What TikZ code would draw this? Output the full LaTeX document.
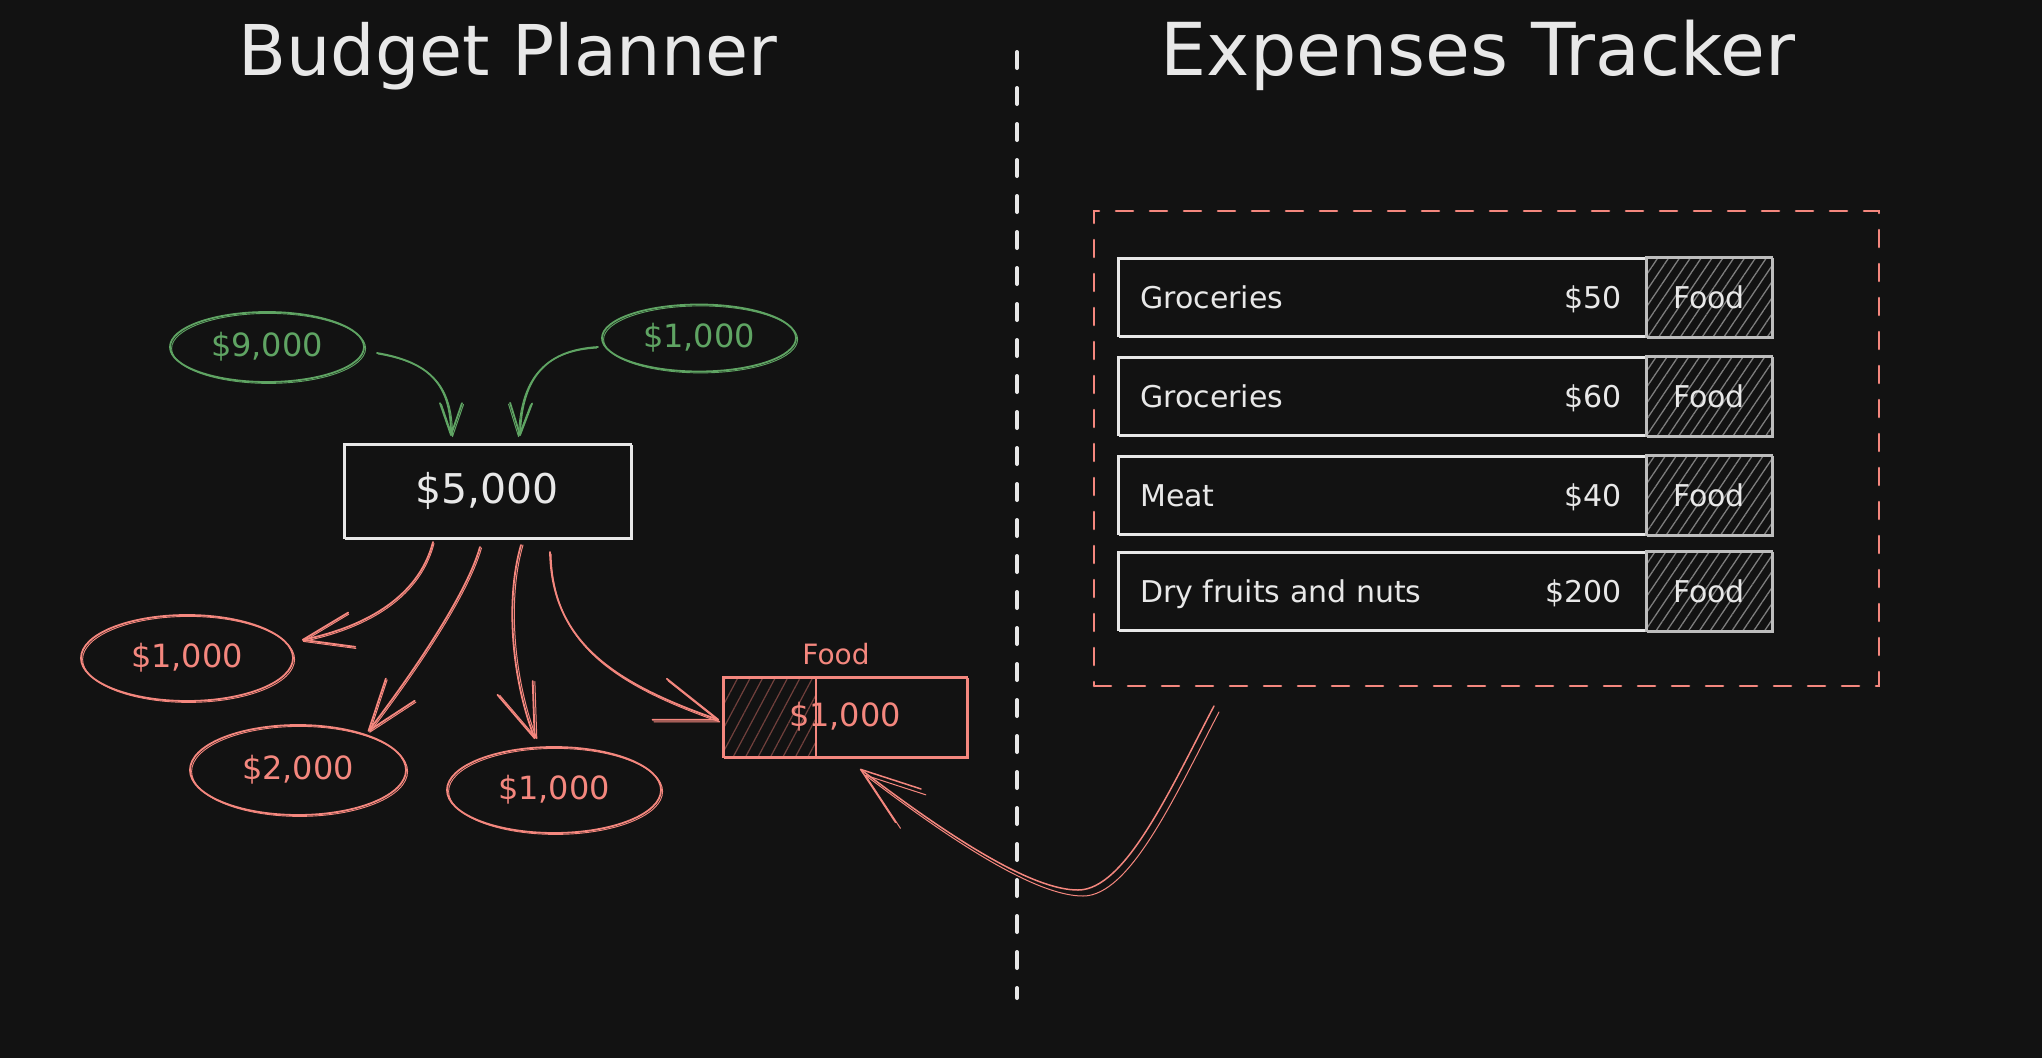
\documentclass[tikz,border=0pt]{standalone}
\usepackage{fontspec}
\setmainfont{DejaVu Sans}
\usetikzlibrary{arrows.meta,shapes.geometric,patterns.meta,calc}

\definecolor{bgc}{HTML}{121212}
\definecolor{inkw}{HTML}{E8E8E8}
\definecolor{inkg}{HTML}{5FA463}
\definecolor{inkr}{HTML}{F4877E}
\definecolor{hatchr}{HTML}{70403C}
\definecolor{tagline}{HTML}{BDBDBD}
\definecolor{hatchg}{HTML}{7E7E7E}

\tikzset{
  sketchline/.style={postaction={draw, line width=0.9pt, transform canvas={shift={(1.6,1.4)}}}},
  title/.style={text=inkw, font=\fontsize{#1}{#1}\selectfont, anchor=base, inner sep=0pt},
  money/.style={font=\fontsize{32}{36}\selectfont},
  small/.style={font=\fontsize{30}{36}\selectfont},
  inflow/.style={ellipse, draw=inkg, text=inkg, line width=1.8pt, inner sep=0pt, money, sketchline},
  outflow/.style={ellipse, draw=inkr, text=inkr, line width=1.8pt, inner sep=0pt, money, sketchline},
  totalbox/.style={draw=inkw, text=inkw, line width=2pt, minimum width=287, minimum height=94,
    inner sep=0pt, font=\fontsize{41}{44}\selectfont, sketchline},
  rowbox/.style={draw=inkw, line width=2pt, minimum width=528, minimum height=78, inner sep=0pt, sketchline},
  tagbox/.style={draw=tagline, line width=1.8pt, minimum width=126, minimum height=80, inner sep=0pt,
    pattern={Lines[angle=56,distance=9pt,line width=1.3pt]}, pattern color=hatchg,
    text=inkw, small, sketchline},
  rowtext/.style={text=inkw, small, inner sep=0pt},
  twin/.style={postaction={draw, line width=1pt, transform canvas={shift={(#1)}}}},
  flowg/.style={draw=inkg, line width=1.8pt, line cap=round,
    -{Straight Barb[length=32pt,width=22pt,round]}},
  flowr/.style={draw=inkr, line width=1.8pt, line cap=round,
    -{Straight Barb[length=#1,width=0.7*#1,round]}},
  divider/.style={draw=inkw, line width=4pt, line cap=round, dash pattern=on 16pt off 20pt},
  frame/.style={draw=inkr, line width=2.6pt, line cap=round, dash pattern=on 17pt off 17pt,
    minimum width=785, minimum height=475, inner sep=0pt}
}

\begin{document}
\begin{tikzpicture}[x=1pt,y=-1pt]
\useasboundingbox (0,0) rectangle (2042,1058);
\fill[bgc] (0,0) rectangle (2042,1058);

% headings
\node[title=70] (hbudget) at (508,75) {Budget Planner};
\node[title=73] (htrack) at (1478,75) {Expenses Tracker};

% divider between the two halves
\draw[divider] (1017,52) -- (1017,998);

% ---------- budget planner ----------
\node[inflow, minimum width=194, minimum height=70] (in9) at (267,347) {\$9,000};
\node[inflow, minimum width=194, minimum height=67] (in1) at (699,338) {\$1,000};
\node[totalbox] (total) at (487,491) {\$5,000};

\node[outflow, minimum width=212, minimum height=86] (out1) at (187,658) {\$1,000};
\node[outflow, minimum width=216, minimum height=90] (out2) at (298,770) {\$2,000};
\node[outflow, minimum width=214, minimum height=86] (out3) at (554,790) {\$1,000};

% category bucket, partly used
\fill[pattern={Lines[angle=62,distance=11pt,line width=1.2pt]}, pattern color=hatchr]
  (723,677) rectangle (816,757);
\node[draw=inkr, line width=1.8pt, minimum width=244, minimum height=80, inner sep=0pt,
  text=inkr, money, sketchline] (bucket) at (845,717) {\$1,000};
\draw[inkr, line width=1.6pt] (816,677) -- (816,757);
\node[text=inkr, font=\fontsize{28}{30}\selectfont, inner sep=0pt, anchor=base] (bucketlbl) at (836,664) {Food};

% incoming money
\coordinate (g1s) at (377,353);
\coordinate (g2s) at (598,347);
\draw[flowg, twin={1.5,1}] (g1s) .. controls (430,362) and (451,385) .. ($(total.north)+(-36,-7)$);
\draw[flowg, twin={-1.5,1}] (g2s) .. controls (548,350) and (522,375) .. ($(total.north)+(33,-7)$);

% outgoing money
\coordinate (oa) at (433,542);
\coordinate (ob) at (480,547);
\coordinate (oc) at (521,545);
\coordinate (od) at (550,552);
\draw[flowr=50pt, twin={1,1.5}] (oa) .. controls (418,600) and (360,628) .. ($(out1.east)+(8,-18)$);
\draw[flowr=52pt, twin={1.5,1}] (ob) .. controls (465,600) and (400,690) .. ($(out2.north east)+(-7,-6)$);
\draw[flowr=54pt, twin={2,0}] (oc) .. controls (505,600) and (512,680) .. ($(out3.north)+(-19,-7)$);
\draw[flowr=62pt, twin={1,2}] (od) .. controls (552,640) and (610,682) .. ($(bucket.west)+(-3,3)$);

% ---------- expenses tracker ----------
\node[frame] (tracker) at (1486.5,448.5) {};

\foreach \i/\yc/\rowlbl/\rowamt in {1/297/Groceries/\$50, 2/396/Groceries/\$60,
    3/495/Meat/\$40, 4/591/Dry fruits and nuts/\$200}{
  \node[rowbox] (row\i) at (1382,\yc) {};
  \node[tagbox] (tag\i) at (1709,\yc) {Food};
  \node[rowtext, anchor=base west] (item\i) at (1140,\yc+11) {\rowlbl};
  \node[rowtext, anchor=base east] (amt\i) at (1622,\yc+11) {\rowamt};
}

% spending flows back into the bucket
\coordinate (es) at (1214,706);
\draw[flowr=60pt, line width=1.5pt, twin={5,6}] (es) .. controls (1170,790) and (1125,890) .. (1078,890)
  .. controls (1035,890) and (960,845) .. ($(bucket.south)+(15,11)$);
\end{tikzpicture}
\end{document}
